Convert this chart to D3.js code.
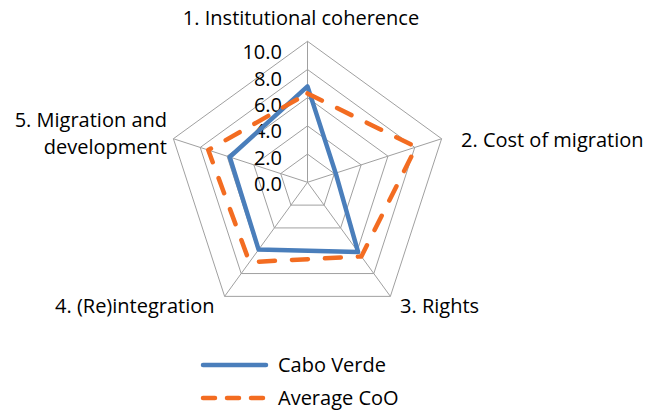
<!DOCTYPE html>
<html>
<head>
<meta charset="utf-8">
<script src="https://cdn.jsdelivr.net/npm/d3@7/dist/d3.min.js"></script>
<style>
  html, body { margin: 0; padding: 0; background: #fff; }
  svg { display: block; font-family: "Open Sans", Lato, sans-serif; }
</style>
</head>
<body>
<svg id="chart" width="654" height="411"></svg>
<script>
// chart data
var axes = ["1. Institutional coherence", "2. Cost of migration", "3. Rights", "4. (Re)integration", "5. Migration and development"];
var caboVerde = [6.8, 2.1, 6.1, 5.9, 5.8];
var averageCoO = [6.3, 8.1, 6.5, 7.0, 7.4];
var ticks = [0, 2, 4, 6, 8, 10];

var svg = d3.select("#chart"),
    cx = 307.5,
    cy = 182.3,
    radius = 141,
    n = axes.length,
    fontSize = 20;

var r = d3.scaleLinear().domain([0, 10]).range([0, radius]);
var angle = d3.scalePoint().domain(d3.range(n + 1)).range([0, 2 * Math.PI]);

function point(i, v) {
    var a = angle(i % n);
    return [cx + r(v) * Math.sin(a), cy - r(v) * Math.cos(a)];
}

var grid = svg.append("g");
// rings
ticks.slice(1).forEach(function (t) {
    grid.append("path")
        .attr("d", d3.line()(d3.range(n).map(function (i) { return point(i, t); })) + "Z")
        .attr("fill", "none")
        .attr("stroke", "#a0a0a0")
        .attr("stroke-width", 1);
});
// spokes
d3.range(n).forEach(function (i) {
    var p = point(i, 10);
    grid.append("line")
        .attr("x1", cx).attr("y1", cy)
        .attr("x2", p[0]).attr("y2", p[1])
        .attr("stroke", "#a0a0a0")
        .attr("stroke-width", 1);
});

// tick labels (Excel squeezes them a little)
var tickY = d3.scaleLinear().domain([0, 10]).range([184, 52]);
svg.append("g").selectAll("text")
    .data(ticks)
    .join("text")
    .attr("x", 282)
    .attr("y", function (d) { return tickY(d); })
    .attr("dy", "0.36em")
    .attr("text-anchor", "end")
    .attr("font-size", fontSize)
    .attr("fill", "#000")
    .text(function (d) { return d3.format(".1f")(d); });

// series
var line = d3.line().curve(d3.curveLinearClosed);
svg.append("path")
    .attr("d", line(caboVerde.map(function (v, i) { return point(i, v); })))
    .attr("fill", "none")
    .attr("stroke", "#4a7ebb")
    .attr("stroke-width", 4.5)
    .attr("stroke-linejoin", "round");
svg.append("path")
    .attr("d", line(averageCoO.map(function (v, i) { return point(i, v); })))
    .attr("fill", "none")
    .attr("stroke", "#f36c21")
    .attr("stroke-width", 4.5)
    .attr("stroke-linecap", "round")
    .attr("stroke-linejoin", "round")
    .attr("stroke-dasharray", "16,17");

// axis labels
var labelPos = [
    {x: 301, y: 25, anchor: "middle"},
    {x: 461, y: 147, anchor: "start"},
    {x: 400, y: 313, anchor: "start"},
    {x: 55, y: 313, anchor: "start"},
    {x: 167, y: 127, anchor: "end"}
];
var labels = svg.append("g").attr("font-size", fontSize).attr("fill", "#000");
axes.forEach(function (name, i) {
    var lp = labelPos[i];
    var t = labels.append("text")
        .attr("x", lp.x)
        .attr("y", lp.y)
        .attr("text-anchor", lp.anchor);
    if (i === 4) {
        t.append("tspan").attr("x", lp.x).text("5. Migration and");
        t.append("tspan").attr("x", lp.x).attr("dy", 27).text("development");
    } else {
        t.text(name);
    }
});

// legend
var legend = svg.append("g");
legend.append("line")
    .attr("x1", 203).attr("x2", 266).attr("y1", 365).attr("y2", 365)
    .attr("stroke", "#4a7ebb").attr("stroke-width", 4.5).attr("stroke-linecap", "round");
legend.append("text").attr("x", 278).attr("y", 372).attr("font-size", fontSize).text("Cabo Verde");
legend.append("line")
    .attr("x1", 203).attr("x2", 266).attr("y1", 398).attr("y2", 398)
    .attr("stroke", "#f36c21").attr("stroke-width", 4.5).attr("stroke-linecap", "round")
    .attr("stroke-dasharray", "12,12");
legend.append("text").attr("x", 278).attr("y", 405).attr("font-size", fontSize).text("Average CoO");
</script>
</body>
</html>
